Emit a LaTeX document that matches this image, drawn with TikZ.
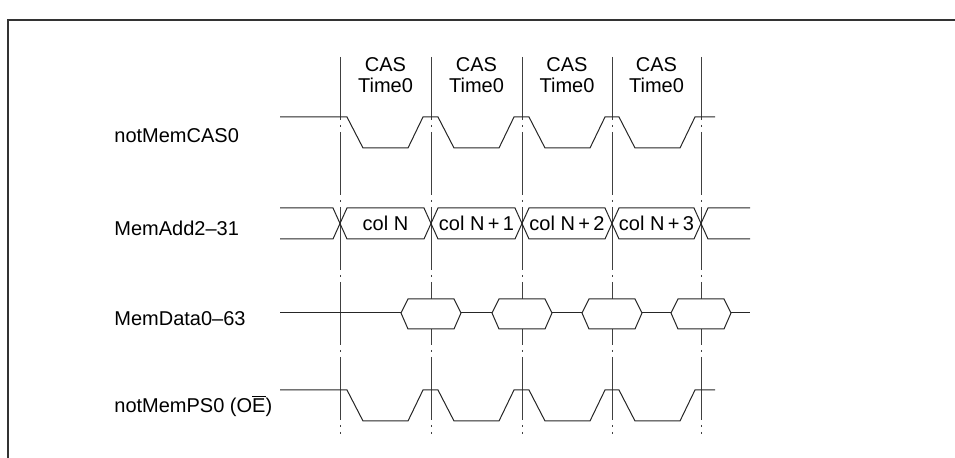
\documentclass[tikz,border=0pt]{standalone}
\usepackage{fontspec}
\setmainfont{Liberation Sans}

\begin{document}
\begin{tikzpicture}[
  x=0.5pt, y=-0.5pt,
  font=\fontsize{10}{10.5}\selectfont,
  wave/.style={draw=black!85, line width=0.5pt, line join=miter},
  timemark/.style={draw=black!75, line width=0.45pt,
    dash pattern=on 31.5pt off 2.5pt on 1pt off 2.5pt},
  signame/.style={anchor=base west, inner sep=0pt},
  cell/.style={anchor=center, inner sep=0pt}
]
\useasboundingbox (0,0) rectangle (955,458);

% ============================================================
% frame (top and left edge only)
% ============================================================
\draw[line width=0.6pt, black!80] (8,458) -- (8,20) -- (955,20);

% dash-dot time marks
\foreach \v in {340,431,522,612,701}
  \draw[timemark] (\v,57) -- (\v,434);

% column headers
\foreach \v/\w [count=\i] in {340/431,431/522,522/612,612/701}
  \node[align=center] (hdr\i) at ({(\v+\w)/2},75) {CAS\\Time0};

% ============================================================
% signal names
% ============================================================
\node[signame] (cas)  at (114,143) {notMemCAS0};
\node[signame] (addr) at (114,236) {MemAdd2--31};
\node[signame] (data) at (114,326) {MemData0--63};
\node[signame] (ps)   at (114,413) {notMemPS0 (O$\overline{\mbox{E}}$)};

% ============================================================
% notMemCAS0
% ============================================================
\draw[wave] (280,117)
  foreach \v in {340,431,522,612} {
    -- (\v+7,117) -- (\v+23,148) -- (\v+68,148) -- (\v+83,117)
  } -- (715,117);

% ============================================================
% MemAdd2-31 (bus)
% ============================================================
\draw[wave] (280,208) -- (333,208) -- (340,223.5) -- (333,239) -- (280,239);
\foreach \v/\w in {340/431,431/522,522/612,612/701}
  \draw[wave] (\v,223.5) -- (\v+7,208) -- (\w-7,208) -- (\w,223.5)
    -- (\w-7,239) -- (\v+7,239) -- cycle;
\draw[wave] (750,208) -- (708,208) -- (701,223.5) -- (708,239) -- (750,239);

\node[cell] (col1) at (385.5,223.5) {col N};
\node[cell] (col2) at (476.5,223.5) {col N\,+\,1};
\node[cell] (col3) at (567,223.5)   {col N\,+\,2};
\node[cell] (col4) at (656.5,223.5) {col N\,+\,3};

% ============================================================
% MemData0-63
% ============================================================
\draw[wave] (280,313) -- (401,313);
\foreach \a/\b in {461/492,552/582,642/671}
  \draw[wave] (\a,313) -- (\b,313);
\draw[wave] (731,313) -- (750,313);
\foreach \c in {431,522,612,701}
  \draw[wave, fill=white] (\c-30,313) -- (\c-23,299) -- (\c+23,299)
    -- (\c+30,313) -- (\c+23,329) -- (\c-23,329) -- cycle;

% ============================================================
% notMemPS0 (OE)
% ============================================================
\draw[wave] (280,390)
  foreach \v in {340,431,522,612} {
    -- (\v+7,390) -- (\v+23,421) -- (\v+68,421) -- (\v+83,390)
  } -- (715,390);

\end{tikzpicture}
\end{document}
